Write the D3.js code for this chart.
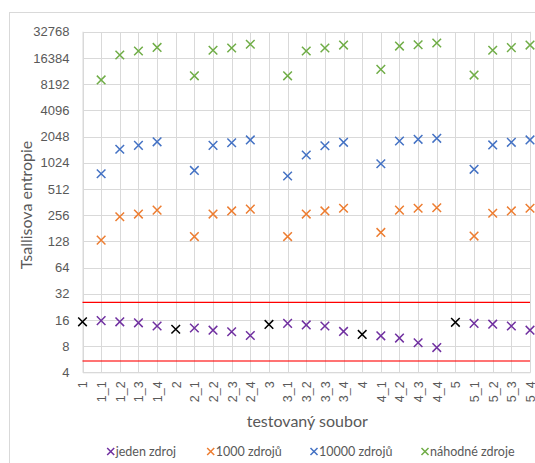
<!DOCTYPE html>
<html>
<head>
<meta charset="utf-8">
<script src="https://cdn.jsdelivr.net/npm/d3@7"></script>
<style>
  html, body { margin: 0; padding: 0; background: #fff; }
  svg { display: block; font-family: Lato, "Open Sans", sans-serif; }
</style>
</head>
<body>
<svg id="chart" width="535" height="463"></svg>
<script>
// Tested files: main files 1..5 and their variants
const categories = [
  "1", "1_1", "1_2", "1_3", "1_4",
  "2", "2_1", "2_2", "2_3", "2_4",
  "3", "3_1", "3_2", "3_3", "3_4",
  "4", "4_1", "4_2", "4_3", "4_4",
  "5", "5_1", "5_2", "5_3", "5_4"
];
const variantCats = categories.filter(c => c.includes("_"));
const baseCats = ["1", "2", "3", "4", "5"];

// Tsallis entropy per variant, one array per source type
const jedenZdroj = [15.7, 15.2, 14.8, 13.6, 12.9, 12.2, 11.7, 10.6, 14.6, 14.0, 13.6, 11.8, 10.5, 9.9, 8.75, 7.7, 14.6, 14.3, 13.6, 12.2];
const zdroju1000 = [132, 245, 263, 292, 145, 263, 286, 300, 145, 263, 286, 307, 162, 292, 307, 311, 147, 269, 286, 307];
const zdroju10000 = [765, 1460, 1620, 1780, 835, 1620, 1735, 1870, 720, 1255, 1605, 1755, 995, 1820, 1900, 1950, 860, 1640, 1755, 1870];
const nahodneZdroje = [9150, 17700, 19650, 21600, 10200, 20050, 21300, 23500, 10200, 19650, 21300, 23000, 12100, 22400, 23200, 24300, 10400, 20050, 21500, 23000];
// Original files (not in the legend)
const puvodni = [15.2, 12.5, 14.2, 10.9, 15.0];
// Reference bounds drawn as red lines
const horniMez = 25.5;
const dolniMez = 5.4;

const yTicks = [4, 8, 16, 32, 64, 128, 256, 512, 1024, 2048, 4096, 8192, 16384, 32768];

const seriesNames = ["jeden zdroj", "1000 zdrojů", "10000 zdrojů", "náhodné zdroje"];
const seriesValues = [jedenZdroj, zdroju1000, zdroju10000, nahodneZdroje];
const seriesColors = ["#7030A0", "#ED7D31", "#4472C4", "#70AD47"];

const svg = d3.select("#chart");
const plot = { left: 82.5, right: 530, top: 31.7, bottom: 372.3 };

const x = d3.scalePoint().domain(categories).range([plot.left, plot.right]);
const y = d3.scaleLog().base(2).domain([4, 32768]).range([plot.bottom, plot.top]);

// Chart frame
svg.append("rect")
  .attr("x", 9.5).attr("y", 12.5).attr("width", 540).attr("height", 470)
  .attr("fill", "none").attr("stroke", "#d9d9d9").attr("stroke-width", 1);

// Horizontal gridlines + y labels
const yAxis = d3.axisLeft(y).tickValues(yTicks).tickFormat(d3.format("d"))
  .tickSize(-(plot.right - plot.left)).tickPadding(13);
const gy = svg.append("g").attr("transform", `translate(${plot.left},0)`).call(yAxis);
gy.select(".domain").remove();
gy.selectAll(".tick line").attr("stroke", "#d9d9d9").attr("stroke-width", 1);
gy.selectAll(".tick text").attr("fill", "#595959").attr("font-size", "13px");

// Vertical gridlines + rotated x labels
const xAxis = d3.axisBottom(x).tickSize(-(plot.bottom - plot.top)).tickPadding(0);
const gx = svg.append("g").attr("transform", `translate(0,${plot.bottom})`).call(xAxis);
gx.select(".domain").attr("stroke", "#d9d9d9");
gx.selectAll(".tick line").attr("stroke", "#d9d9d9").attr("stroke-width", 1);
gx.selectAll(".tick text")
  .attr("fill", "#595959").attr("font-size", "12.5px")
  .attr("text-anchor", "end")
  .attr("transform", "translate(0,9) rotate(-90)")
  .attr("x", 0).attr("y", 0).attr("dy", "0.35em");

// Crisp alignment of grid
svg.selectAll(".tick line").attr("shape-rendering", "crispEdges");

// Red bounds
svg.append("line")
  .attr("x1", plot.left).attr("x2", plot.right)
  .attr("y1", y(horniMez)).attr("y2", y(horniMez))
  .attr("stroke", "#ff0000").attr("stroke-width", 1.2);
svg.append("line")
  .attr("x1", plot.left).attr("x2", plot.right)
  .attr("y1", y(dolniMez)).attr("y2", y(dolniMez))
  .attr("stroke", "#ff0000").attr("stroke-opacity", 0.55).attr("stroke-width", 2);

const marker = d3.symbol().type(d3.symbolX).size(50);

function drawPoints(cats, values, color) {
  svg.append("g").selectAll("path")
    .data(values)
    .join("path")
    .attr("d", marker)
    .attr("transform", (d, i) => `translate(${x(cats[i])},${y(d)})`)
    .attr("fill", "none")
    .attr("stroke", color)
    .attr("stroke-width", 1.5);
}

seriesValues.forEach((vals, i) => drawPoints(variantCats, vals, seriesColors[i]));
drawPoints(baseCats, puvodni, "#000000");

// Axis titles
svg.append("text")
  .attr("transform", `translate(32,${(plot.top + plot.bottom) / 2 + 3}) rotate(-90)`)
  .attr("text-anchor", "middle")
  .attr("fill", "#595959").attr("font-size", "16px")
  .text("Tsallisova entropie");
svg.append("text")
  .attr("x", (plot.left + plot.right) / 2 + 1).attr("y", 427)
  .attr("text-anchor", "middle")
  .attr("fill", "#595959").attr("font-size", "16px")
  .text("testovaný soubor");

// Legend
const legendX = [110.7, 210.7, 314, 425];
const legend = svg.append("g");
seriesNames.forEach((name, i) => {
  const g = legend.append("g").attr("transform", `translate(${legendX[i]},451.5)`);
  g.append("path").attr("d", d3.symbol().type(d3.symbolX).size(34))
    .attr("fill", "none").attr("stroke", seriesColors[i]).attr("stroke-width", 1.5);
  g.append("text").attr("x", 5).attr("dy", "0.35em")
    .attr("fill", "#595959").attr("font-size", "12.5px")
    .text(name);
});
</script>
</body>
</html>
